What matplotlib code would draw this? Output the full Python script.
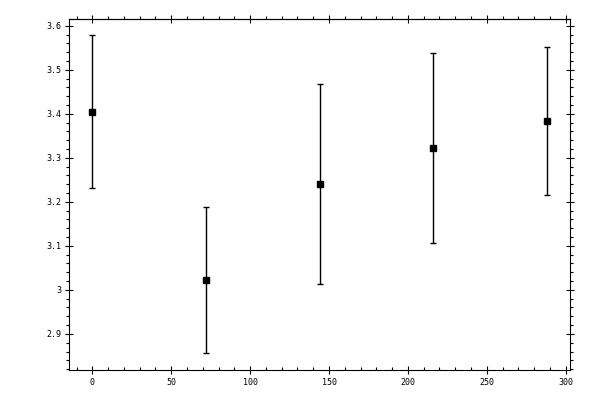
import matplotlib
matplotlib.use("Agg")
import matplotlib.pyplot as plt
import numpy as np
from matplotlib.ticker import MultipleLocator, NullFormatter

# values
x_pos = [0, 72, 144, 216, 288]
y_mean = [3.404, 3.023, 3.240, 3.322, 3.384]
y_low = [3.232, 2.856, 3.013, 3.106, 3.215]
y_high = [3.580, 3.188, 3.468, 3.538, 3.552]

x_lim = (-14.6, 302.7)
y_lim = (2.818, 3.615)

yerr = np.array([np.array(y_mean) - np.array(y_low),
                 np.array(y_high) - np.array(y_mean)])

fig = plt.figure(figsize=(6, 4), dpi=100)
ax = fig.add_axes([0.1155, 0.075, 0.9500 - 0.1155, 0.952 - 0.075])

ax.errorbar(x_pos, y_mean, yerr=yerr, fmt="s", color="black",
            markersize=5, ecolor="black", elinewidth=1.0,
            capsize=2.5, capthick=1.0)

ax.set_xlim(*x_lim)
ax.set_ylim(*y_lim)

ax.xaxis.set_major_locator(MultipleLocator(50))
ax.xaxis.set_minor_locator(MultipleLocator(10))
ax.yaxis.set_major_locator(MultipleLocator(0.1))
ax.yaxis.set_minor_locator(MultipleLocator(0.02))
ax.yaxis.set_major_formatter(
    plt.FuncFormatter(lambda v, p: f"{v:.1f}".rstrip("0").rstrip(".")))

for s in ax.spines.values():
    s.set_linewidth(0.8)

# major ticks cross the frame; minor ticks out, except bottom minor (in)
ax.tick_params(which="major", direction="inout", length=6, width=0.8,
               top=False, right=True, labelsize=6, pad=3)
ax.tick_params(axis="y", which="minor", direction="out", length=2.3,
               width=0.8, right=True)
ax.tick_params(axis="x", which="minor", direction="in", length=2.3,
               width=0.8, top=False)

top = ax.secondary_xaxis("top")
top.xaxis.set_major_locator(MultipleLocator(50))
top.xaxis.set_minor_locator(MultipleLocator(10))
top.xaxis.set_major_formatter(NullFormatter())
top.tick_params(which="major", direction="inout", length=6, width=0.8)
top.tick_params(which="minor", direction="out", length=2.3, width=0.8)
top.spines["top"].set_linewidth(0.8)

for lbl in ax.get_xticklabels() + ax.get_yticklabels():
    lbl.set_family("DejaVu Sans Mono")

fig.savefig("out.png", dpi=100)
